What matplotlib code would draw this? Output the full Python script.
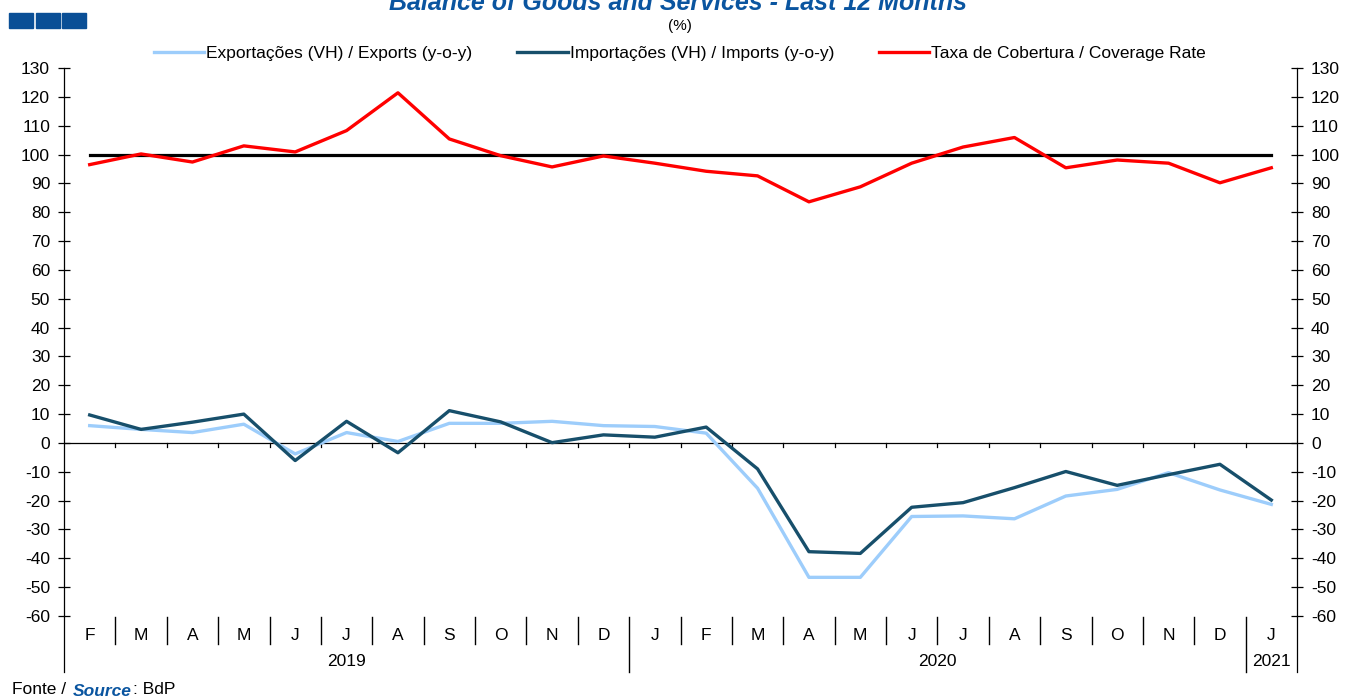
import matplotlib
matplotlib.use("Agg")
import matplotlib.pyplot as plt
from matplotlib.patches import Rectangle
import numpy as np

plt.rcParams['font.family'] = ['Liberation Sans', 'DejaVu Sans']

months = ["F", "M", "A", "M", "J", "J", "A", "S", "O", "N", "D",
          "J", "F", "M", "A", "M", "J", "J", "A", "S", "O", "N", "D", "J"]
years = ["2019", "2020", "2021"]
year_counts = [11, 12, 1]

exports = [6.0, 4.7, 3.6, 6.5, -3.8, 3.6, 0.5, 6.8, 6.8, 7.5, 6.0, 5.7,
           3.4, -15.7, -46.6, -46.6, -25.5, -25.3, -26.3, -18.4, -16.1, -10.3, -16.3, -21.3]
imports = [9.7, 4.7, 7.2, 10.0, -6.1, 7.5, -3.4, 11.2, 7.3, 0.1, 2.8, 2.0,
           5.5, -9.0, -37.7, -38.3, -22.3, -20.7, -15.5, -9.9, -14.7, -11.0, -7.4, -19.8]
coverage = [96.5, 100.2, 97.4, 103.0, 100.9, 108.3, 121.4, 105.4, 99.6, 95.7, 99.5, 97.0,
            94.2, 92.6, 83.6, 88.8, 97.0, 102.6, 105.9, 95.4, 98.1, 97.0, 90.2, 95.4]
ref_level = 100

labels = ["Exportações (VH) / Exports (y-o-y)",
          "Importações (VH) / Imports (y-o-y)",
          "Taxa de Cobertura / Coverage Rate"]

c_exp = "#9DCDFB"
c_imp = "#174F6B"
c_cov = "#FF0000"
blue = "#0A55A0"
fs = 12.5

W, H = 1350, 697
fig = plt.figure(figsize=(W / 100, H / 100), dpi=100)
L, R, T, B = 64, 1297, 68, 616
ax = fig.add_axes([L / W, 1 - B / H, (R - L) / W, (B - T) / H])

n = len(months)
x = np.arange(n) + 0.5
ax.set_xlim(0, n)
ax.set_ylim(-60, 130)

ax.plot(x, [ref_level] * n, color="black", lw=2.3, zorder=2)
l1, = ax.plot(x, exports, color=c_exp, lw=2.4, zorder=3)
l2, = ax.plot(x, imports, color=c_imp, lw=2.4, zorder=4)
l3, = ax.plot(x, coverage, color=c_cov, lw=2.4, zorder=3)

# zero line with small ticks at category boundaries
ax.axhline(0, color="black", lw=0.9, zorder=1)
for b in range(1, n):
    ax.plot([b, b], [0, -1.3], color="black", lw=0.9, zorder=1)

ticks = np.arange(-60, 131, 10)
ax.set_yticks(ticks)
ax.set_yticklabels([str(t) for t in ticks])
ax.tick_params(axis="y", direction="inout", length=8, width=0.9, labelsize=fs,
               left=True, right=True, labelleft=True, labelright=True, pad=6)
ax.set_xticks([])
for s in ["top", "bottom"]:
    ax.spines[s].set_visible(False)
for s in ["left", "right"]:
    ax.spines[s].set_linewidth(0.9)

# extended spines and category separators below the plot
trans = ax.get_xaxis_transform()
low = -(672 - B) / (B - T)
sep_bot = -(644 - B) / (B - T)
ax.plot([0, 0], [0, low], transform=trans, color="black", lw=0.9, clip_on=False)
ax.plot([n, n], [0, low], transform=trans, color="black", lw=0.9, clip_on=False)
year_bounds = np.cumsum(year_counts)[:-1]
for b in range(1, n):
    y0 = -(617 - B) / (B - T)
    y1 = low if b in year_bounds else sep_bot
    ax.plot([b, b], [y0, y1], transform=trans, color="black", lw=1.0, clip_on=False)
for xi, m in zip(x, months):
    ax.text(xi, -(635 - B) / (B - T), m, transform=trans, ha="center", va="center", fontsize=fs)
start = 0
for yr, cnt in zip(years, year_counts):
    ax.text(start + cnt / 2, -(662 - B) / (B - T), yr, transform=trans, ha="center",
            va="center", fontsize=fs)
    start += cnt

# title, subtitle
fig.text(678 / W, 1 - 3 / H, "Balance of Goods and Services - Last 12 Months", ha="center",
         va="center", fontsize=18, fontweight="bold", fontstyle="italic", color=blue)
fig.text(680 / W, 1 - 26 / H, "(%)", ha="center", va="center", fontsize=11)

# logo squares
for i in range(3):
    fig.add_artist(Rectangle(((9 + i * 26.5) / W, 1 - 28 / H), 24 / W, 15 / H,
                             transform=fig.transFigure, color="#0A4F96"))

fig.legend([l1, l2, l3], labels, loc="center", bbox_to_anchor=(680 / W, 1 - 53 / H),
           ncol=3, frameon=False, fontsize=fs, handlelength=2.9, handletextpad=0.1,
           columnspacing=2.6)

# source
t1 = fig.text(12 / W, 1 - 690 / H, "Fonte / ", ha="left", va="center", fontsize=fs)
t2 = fig.text(0, 0, "Source", ha="left", va="center", fontsize=fs,
              fontweight="bold", fontstyle="italic", color=blue)
fig.canvas.draw()
bb = t1.get_window_extent()
t2.set_position(((bb.x1 + 2) / W, 1 - 691 / H))
fig.canvas.draw()
bb2 = t2.get_window_extent()
fig.text((bb2.x1 + 1) / W, 1 - 690 / H, ": BdP", ha="left", va="center", fontsize=fs)

fig.savefig("out.png", dpi=100)
